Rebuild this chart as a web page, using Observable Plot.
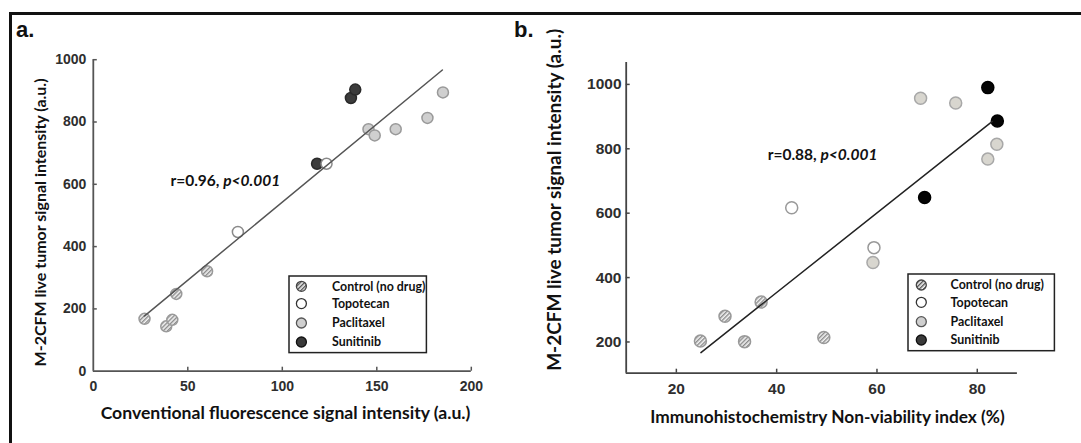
<!DOCTYPE html>
<html><head><meta charset="utf-8">
<script src="https://cdn.jsdelivr.net/npm/d3@7"></script>
<script src="https://cdn.jsdelivr.net/npm/@observablehq/plot@0.6"></script>
<style>
html,body{margin:0;padding:0;background:#fff;}
#fig{position:relative;width:1081px;height:443px;overflow:hidden;background:#fff;}
.abs{position:absolute;}
.letter{position:absolute;font-family:'Liberation Sans',Arial,sans-serif;font-weight:bold;font-size:22px;color:#111;line-height:1;}
</style></head><body><div id="fig"></div>
<script>
// ---------- data ----------
const groups = ["Control (no drug)", "Topotecan", "Paclitaxel", "Sunitinib"];

// panel a
const aControlX = [27.1, 38.6, 41.8, 43.9, 60.2];
const aControlY = [168, 144, 165, 248, 321];
const aTopoX = [76.5, 123.4];
const aTopoY = [447, 666];
const aSuniX = [118.4, 136.3, 138.6];
const aSuniY = [666, 877, 904];
const aPacliX = [145.6, 148.9, 160.0, 176.8, 185.0];
const aPacliY = [777, 757, 777, 813, 895];
const aFitX = [27, 184.7];
const aFitY = [177, 967];
const aXTicks = [0, 50, 100, 150, 200];
const aYTicks = [0, 200, 400, 600, 800, 1000];
const aXLabel = "Conventional fluorescence signal intensity (a.u.)";
const aYLabel = "M-2CFM live tumor signal intensity (a.u.)";
const aNoteR = "r=0.96, ", aNoteP = "p<0.001";
const aNoteX = 40.8, aNoteY = 610;

// panel b
const bControlX = [24.8, 29.7, 33.6, 36.9, 49.4];
const bControlY = [203, 280, 201, 324, 214];
const bTopoX = [43.0, 59.4];
const bTopoY = [617, 493];
const bPacliX = [59.2, 68.7, 75.7, 82.1, 83.9];
const bPacliY = [447, 957, 942, 768, 814];
const bSuniX = [69.5, 82.1, 84.0];
const bSuniY = [649, 990, 886];
const bFitX = [24.9, 83];
const bFitY = [167, 885];
const bXTicks = [20, 40, 60, 80];
const bYTicks = [200, 400, 600, 800, 1000];
const bXLabel = "Immunohistochemistry Non-viability index (%)";
const bYLabel = "M-2CFM live tumor signal intensity (a.u.)";
const bNoteR = "r=0.88, ", bNoteP = "p<0.001";
const bNoteX = 38.2, bNoteY = 780;

// ---------- helpers ----------
const LABEL_FONT = "Lato, 'Open Sans', sans-serif";
const TICK_FONT = "'Liberation Sans', Arial, sans-serif";
const fig = document.getElementById("fig");

function zipXY(xs, ys) { return xs.map((x, i) => ({x, y: ys[i]})); }

function addHatch(svgNode, id, bg, stripe) {
  let defs = d3.select(svgNode).select("defs");
  if (defs.empty()) defs = d3.select(svgNode).insert("defs", ":first-child");
  const p = defs.append("pattern").attr("id", id)
    .attr("patternUnits", "userSpaceOnUse").attr("width", 3).attr("height", 3)
    .attr("patternTransform", "rotate(45)");
  p.append("rect").attr("width", 3).attr("height", 3).attr("fill", bg);
  p.append("rect").attr("width", 1.4).attr("height", 3).attr("fill", stripe);
}

function styleNote(svgNode, r, p) {
  d3.select(svgNode).selectAll("text").filter(function () { return this.textContent === r + p; })
    .each(function () {
      const t = d3.select(this);
      t.text("");
      t.append("tspan").text(r);
      t.append("tspan").attr("font-style", "italic").text(p);
    });
}

function panel(o) {
  const W = o.width - o.ml - o.mr, H = o.height - o.mt - o.mb;
  const marks = [
    Plot.ruleY([o.yDom[0]], {stroke: o.axisColor, strokeWidth: 1.8}),
    Plot.ruleX([o.xDom[0]], {stroke: o.axisColor, strokeWidth: 1.8}),
    Plot.tickX(o.xTicks.filter(d => d !== o.xDom[0]), {x: d => d, insetTop: H - 4, stroke: o.axisColor, strokeWidth: 1.5}),
    Plot.tickY(o.yTicks.filter(d => d !== o.yDom[0]), {y: d => d, insetRight: W - 4, stroke: o.axisColor, strokeWidth: 1.5}),
    Plot.axisX(o.xTicks, {tickSize: 0, tickPadding: o.xPad, label: null, tickFormat: d => String(d), fontSize: o.tickFs, fontWeight: "bold", fontFamily: TICK_FONT}),
    Plot.axisY(o.yTicks, {tickSize: 0, tickPadding: o.yPad, label: null, tickFormat: d => String(d), fontSize: o.tickFs, fontWeight: "bold", fontFamily: TICK_FONT}),
  ];
  for (const s of o.series) {
    marks.push(Plot.dot(zipXY(s.x, s.y), {x: "x", y: "y", r: o.r, fill: s.fill, stroke: s.stroke, strokeWidth: 1.5}));
  }
  marks.push(Plot.line(zipXY(o.fitX, o.fitY), {x: "x", y: "y", stroke: o.lineColor, strokeWidth: 1.5}));
  marks.push(Plot.text([o.noteX], {x: d => d, y: () => o.noteY, text: () => o.noteR + o.noteP,
    textAnchor: "start", fontSize: o.noteFs, fontWeight: "bold", fontFamily: LABEL_FONT, fill: "#111"}));
  marks.push(Plot.text([o.xLabel], {frameAnchor: "bottom", text: d => d, dx: o.xLabDx, dy: o.xLabDy,
    textAnchor: "middle", lineAnchor: "middle",
    fontSize: o.xLabFs, fontWeight: "bold", fontFamily: LABEL_FONT, fill: "#111"}));
  marks.push(Plot.text([o.yLabel], {frameAnchor: "left", text: d => d, rotate: -90, dx: o.yLabDx, dy: o.yLabDy,
    textAnchor: "middle", lineAnchor: "middle",
    fontSize: o.yLabFs, fontWeight: "bold", fontFamily: LABEL_FONT, fill: "#111"}));

  const svg = Plot.plot({
    width: o.width, height: o.height,
    marginLeft: o.ml, marginRight: o.mr, marginTop: o.mt, marginBottom: o.mb,
    x: {domain: o.xDom, ticks: o.xTicks},
    y: {domain: o.yDom, ticks: o.yTicks},
    style: {background: "transparent", color: "#2e2e2e", fontFamily: TICK_FONT, overflow: "visible"},
    marks
  });
  addHatch(svg, o.hatchId, "#f4f4f4", "#8a8a8a");
  styleNote(svg, o.noteR, o.noteP);
  svg.style.position = "absolute";
  svg.style.left = o.left + "px";
  svg.style.top = "0px";
  fig.appendChild(svg);
}

function legend(o) {
  const svg = d3.create("svg").attr("width", o.w + 4).attr("height", o.h + 4)
    .style("position", "absolute").style("left", (o.left - 2) + "px").style("top", (o.top - 2) + "px");
  addHatch(svg.node(), o.hatchId, "#f4f4f4", "#555");
  const g = svg.append("g").attr("transform", "translate(2,2)");
  g.append("rect").attr("width", o.w).attr("height", o.h).attr("fill", "#fff").attr("stroke", "#222").attr("stroke-width", 1.5);
  groups.forEach((name, i) => {
    const st = o.styles[i];
    g.append("circle").attr("cx", o.mx).attr("cy", o.rows[i]).attr("r", 5)
      .attr("fill", st.fill).attr("stroke", st.stroke).attr("stroke-width", 1.3);
    g.append("text").attr("x", o.tx).attr("y", o.rows[i]).attr("dy", "0.35em")
      .attr("font-family", LABEL_FONT).attr("font-weight", "bold").attr("font-size", 12.4).attr("fill", "#111")
      .text(name);
  });
  fig.appendChild(svg.node());
}

// ---------- frame ----------
const border = document.createElement("div");
border.className = "abs";
Object.assign(border.style, {left: "9px", top: "11.5px", width: "1100px", height: "460px",
  borderLeft: "3px solid #111", borderTop: "3px solid #111"});
fig.appendChild(border);

// ---------- panels ----------
panel({
  left: 0, width: 540, height: 443, ml: 92.8, mr: 69.2, mt: 59.2, mb: 72.3,
  xDom: [0, 200], yDom: [0, 1000], xTicks: aXTicks, yTicks: aYTicks,
  axisColor: "#555", lineColor: "#555", tickFs: 14, xPad: 10, yPad: 7, r: 5.5,
  series: [
    {x: aControlX, y: aControlY, fill: "url(#hatchA)", stroke: "#9a9a9a"},
    {x: aSuniX, y: aSuniY, fill: "#3c3c3c", stroke: "#2a2a2a"},
    {x: aTopoX, y: aTopoY, fill: "#ffffff", stroke: "#8a8a8a"},
    {x: aPacliX, y: aPacliY, fill: "#cfcfcf", stroke: "#999999"},
  ],
  fitX: aFitX, fitY: aFitY,
  noteX: aNoteX, noteY: aNoteY, noteR: aNoteR, noteP: aNoteP, noteFs: 15.5,
  xLabel: aXLabel, xLabDx: 3.2, xLabDy: 42.3, xLabFs: 17.6,
  yLabel: aYLabel, yLabDx: -52.2, yLabDy: 7, yLabFs: 16,
  hatchId: "hatchA"
});

panel({
  left: 540, width: 541, height: 443, ml: 85.7, mr: 64.1, mt: 62, mb: 70.3,
  xDom: [10, 88], yDom: [103, 1068], xTicks: bXTicks, yTicks: bYTicks,
  axisColor: "#444", lineColor: "#222", tickFs: 15.5, xPad: 10, yPad: 4.7, r: 6,
  series: [
    {x: bControlX, y: bControlY, fill: "url(#hatchB)", stroke: "#999999"},
    {x: bTopoX, y: bTopoY, fill: "#ffffff", stroke: "#999999"},
    {x: bPacliX, y: bPacliY, fill: "#d8d6cf", stroke: "#a8a8a8"},
    {x: bSuniX, y: bSuniY, fill: "#050505", stroke: "#000000"},
  ],
  fitX: bFitX, fitY: bFitY,
  noteX: bNoteX, noteY: bNoteY, noteR: bNoteR, noteP: bNoteP, noteFs: 15.5,
  xLabel: bXLabel, xLabDx: 5.7, xLabDy: 44, xLabFs: 17.3,
  yLabel: bYLabel, yLabDx: -71.7, yLabDy: -18, yLabFs: 19,
  hatchId: "hatchB"
});

// ---------- legends ----------
legend({left: 289.3, top: 275.7, w: 137.4, h: 76.6, mx: 12.4, tx: 43, rows: [10.3, 27.6, 47, 66],
  hatchId: "hatchLA",
  styles: [{fill: "url(#hatchLA)", stroke: "#444"}, {fill: "#fff", stroke: "#333"},
           {fill: "#cfcfcf", stroke: "#555"}, {fill: "#3a3a3a", stroke: "#111"}]});
legend({left: 908.4, top: 274, w: 146.4, h: 76.7, mx: 13.3, tx: 42.6, rows: [11, 28.3, 47.7, 66],
  hatchId: "hatchLB",
  styles: [{fill: "url(#hatchLB)", stroke: "#444"}, {fill: "#fff", stroke: "#333"},
           {fill: "#cfcfcf", stroke: "#555"}, {fill: "#3a3a3a", stroke: "#111"}]});

// ---------- panel letters ----------
for (const [t, x] of [["a.", 16], ["b.", 514]]) {
  const d = document.createElement("div");
  d.className = "letter";
  d.textContent = t;
  d.style.left = x + "px";
  d.style.top = "19px";
  fig.appendChild(d);
}
</script></body></html>
